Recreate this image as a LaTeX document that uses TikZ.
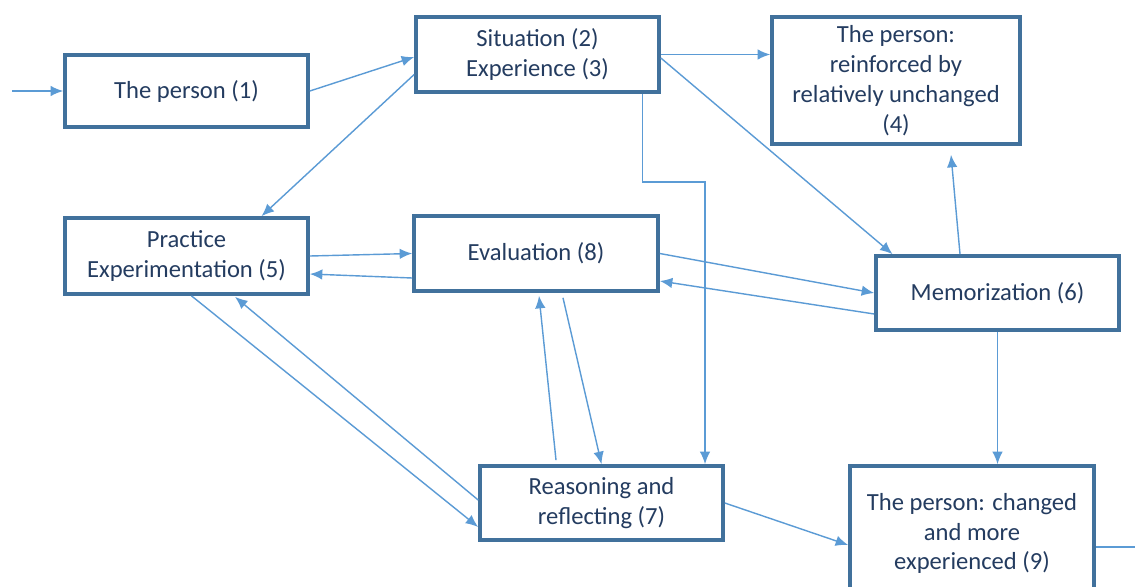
\documentclass[tikz,border=0pt]{standalone}
\usepackage{fontspec}
\setmainfont{Carlito}
\usepackage{tikz}
\usetikzlibrary{arrows.meta,calc}

\definecolor{boxblue}{RGB}{65,113,156}
\definecolor{arrblue}{RGB}{91,155,213}
\definecolor{txtblue}{RGB}{36,60,96}

\tikzset{
    box/.style={draw=boxblue, line width=2.1pt, fill=white, text=txtblue,
        minimum width=4.86cm, align=center, inner sep=2pt,
        font=\fontsize{14}{17}\selectfont},
    arr/.style={draw=arrblue, line width=0.8pt, -{Latex[length=2.5mm,width=2.1mm]}},
    line/.style={draw=arrblue, line width=0.8pt}
}

\begin{document}
\begin{tikzpicture}
    %%Background
    \useasboundingbox[fill=white] (0,0) rectangle (22.7,-11.72);

    %%Boxes
    \node[box, minimum height=1.44cm] (p1) at (3.73,-1.82) {The person (1)};
    \node[box, minimum height=1.5cm] (sit) at (10.75,-1.09) {Situation (2)\\Experience (3)};
    \node[box, minimum height=2.54cm, minimum width=4.96cm] (p4) at (17.92,-1.61)
        {The person:\\reinforced by\\relatively unchanged\\(4)};
    \node[box, minimum height=1.52cm] (prac) at (3.73,-5.12) {Practice\\Experimentation (5)};
    \node[box, minimum height=1.5cm, minimum width=4.88cm] (eval) at (10.72,-5.07) {Evaluation (8)};
    \node[box, minimum height=1.48cm] (memo) at (19.95,-5.86) {Memorization (6)};
    \node[box, minimum height=1.48cm] (reas) at (12.03,-10.06) {Reasoning and\\reflecting (7)};
    \node[box, minimum height=2.7cm, minimum width=4.88cm] (p9) at (19.44,-10.67)
        {The person: changed\\and more\\experienced (9)};

    %%Free ends
    \coordinate (in) at (0.24,-1.82);
    \coordinate (out) at (22.8,-10.94);

    %%Arrows
    \draw[arr] (in) -- (p1.west);
    \draw[arr] (p1.east) -- ([yshift=-0.5mm]sit.west);
    \draw[arr] ([yshift=-4mm]sit.west) -- ([xshift=15mm]prac.north);
    \draw[arr] (sit.east) -- (sit.east -| p4.west);
    \draw[arr] ([yshift=-0.7mm]sit.east) -- ([xshift=-21mm]memo.north);
    \draw[arr] ([xshift=21mm]sit.south) -- ++(0,-1.76) -| ([xshift=20.7mm]reas.north);

    \draw[arr] (prac.east) -- (eval.west);
    \draw[arr] ([yshift=-4.9mm]eval.west) -- ([yshift=-3.6mm]prac.east);
    \draw[arr] (eval.east) -- (memo.west);
    \draw[arr] ([yshift=-4.2mm]memo.west) -- ([yshift=-5.5mm]eval.east);

    \draw[arr] ([xshift=-7.5mm]memo.north) -- ([xshift=11mm,yshift=-1.8mm]p4.south);
    \draw[arr] (memo.south) -- (memo.south |- p9.north);

    \draw[arr] ([xshift=-9.1mm,yshift=0.8mm]reas.north) -- ([xshift=0.6mm,yshift=-0.6mm]eval.south);
    \draw[arr] ([xshift=5.4mm,yshift=-1mm]eval.south) -- (reas.north);
    \draw[arr] ([yshift=0.6mm]reas.west) -- ([xshift=9.7mm,yshift=-0.2mm]prac.south);
    \draw[arr] ([xshift=1mm]prac.south) -- ([yshift=-4.8mm]reas.west);
    \draw[arr] (reas.east) -- ([yshift=-2.3mm]p9.west);

    \draw[line] (p9.east |- out) -- (out);

\end{tikzpicture}
\end{document}
